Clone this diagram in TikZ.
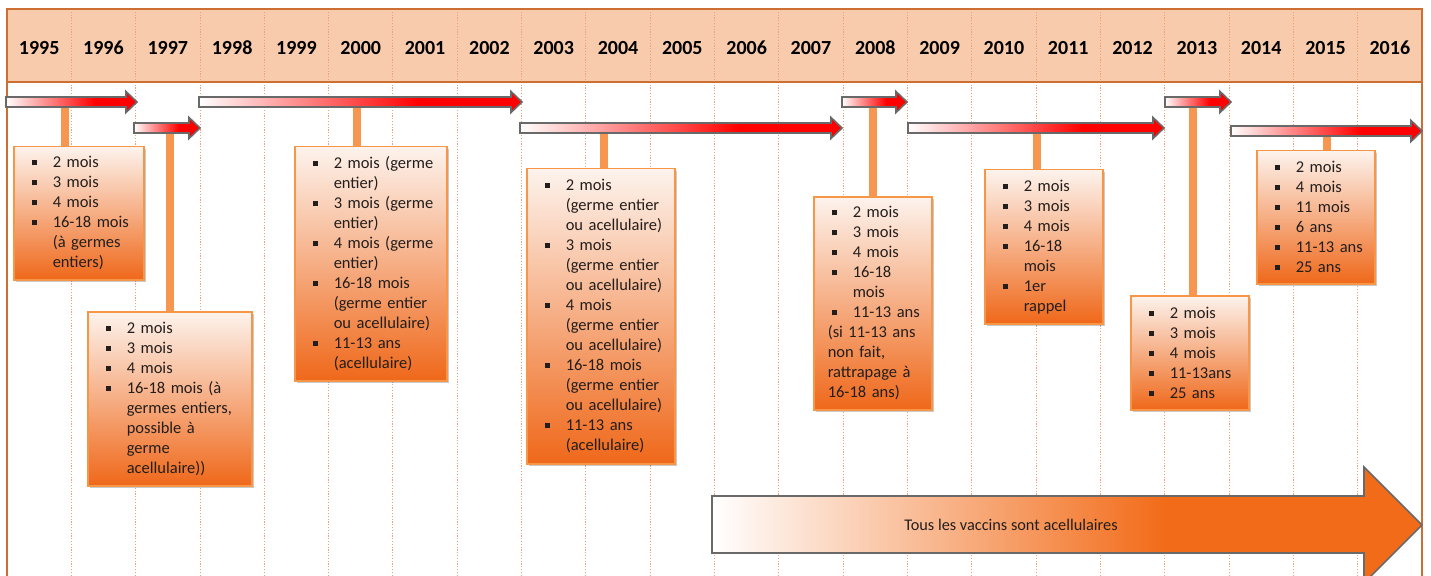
\documentclass[tikz,border=0pt]{standalone}
\usepackage{fontspec}
\setmainfont{Carlito}
\usetikzlibrary{shadows}
\definecolor{hdr}{RGB}{248,203,173}
\definecolor{frame}{RGB}{205,110,50}
\definecolor{gridc}{RGB}{238,160,120}
\definecolor{arrgray}{RGB}{105,105,105}
\definecolor{conn}{RGB}{247,150,80}
\definecolor{boxline}{RGB}{247,150,70}
\definecolor{boxtop}{RGB}{253,243,237}
\definecolor{boxbot}{RGB}{239,104,26}
\definecolor{bigor}{RGB}{242,107,24}
\definecolor{txt}{RGB}{35,30,28}
\pgfdeclarehorizontalshading{redgrad}{100bp}{color(0bp)=(white); color(25bp)=(white); color(59bp)=(red); color(100bp)=(red)}
\pgfdeclarehorizontalshading{orgrad}{100bp}{color(0bp)=(white); color(25bp)=(white); color(57bp)=(bigor); color(100bp)=(bigor)}
\newcommand{\bl}[1]{\mbox{\makebox[25bp][l]{\hspace*{4bp}\raisebox{2.5bp}{\rule{5bp}{5bp}}}#1}}
\newcommand{\cl}[1]{\mbox{\hspace*{25bp}#1}}
\newcommand{\pl}[1]{\mbox{#1}}
\newcommand{\tlarr}[3]{\draw[tlarrowsty] (#1,{#3-5}) -- ({#2-11},{#3-5}) -- ({#2-11},{#3-10.5}) -- (#2,#3) -- ({#2-11},{#3+10.5}) -- ({#2-11},{#3+5}) -- (#1,{#3+5}) -- cycle;}
\tikzset{
  yearlbl/.style={font=\fontsize{20bp}{24bp}\selectfont\bfseries, text=black},
  gridline/.style={draw=gridc, line width=0.9bp, dash pattern=on 1.2bp off 1.6bp},
  framel/.style={draw=frame, line width=1.6bp},
  tlarrowsty/.style={draw=arrgray, line width=1.6bp, shade, shading=redgrad, line join=miter},
  connector/.style={draw=conn, line width=8bp},
  sched/.style={draw=boxline, line width=1.5bp, top color=boxtop, bottom color=boxbot,
    inner xsep=14bp, inner ysep=0pt, anchor=north west, align=left,
    font=\fontsize{16.5bp}{20bp}\selectfont, text=txt,
    drop shadow={shadow xshift=2.5bp, shadow yshift=-2.5bp, opacity=0.35, fill=black!60}},
}
\begin{document}
\begin{tikzpicture}[x=1bp, y=-1bp]
\clip (0,0) rectangle (1431,576);
\useasboundingbox (0,0) rectangle (1431,576);
% header
\fill[hdr] (7,9) rectangle (1422,82);
\foreach \k in {1,...,21} \draw[gridline] ({7+64.318*\k},9) -- ({7+64.318*\k},576);
\draw[framel] (7,576) -- (7,9) -- (1422,9) -- (1422,576);
\draw[framel] (7,82) -- (1422,82);
\foreach \i in {0,...,21} {
  \pgfmathtruncatemacro\yr{1995+\i}
  \node[yearlbl] (y\yr) at ({39.16+64.318*\i},48) {\yr};
}
% connector start points
\coordinate (c1) at (65,106);
\coordinate (c2) at (170,132);
\coordinate (c3) at (357,106);
\coordinate (c4) at (604,132);
\coordinate (c5) at (873,106);
\coordinate (c6) at (1037,132);
\coordinate (c7) at (1193,106);
\coordinate (c8) at (1327,135);
% boxes
\node[sched, text width=102bp, minimum height=133bp] (b1) at (13,146)
 {\bl{2 mois}\\\bl{3 mois}\\\bl{4 mois}\\\bl{16-18 mois}\\\cl{(à germes}\\\cl{entiers)}};
\node[sched, text width=136bp, minimum height=174bp] (b2) at (87,311)
 {\bl{2 mois}\\\bl{3 mois}\\\bl{4 mois}\\\bl{16-18 mois (à}\\\cl{germes entiers,}\\\cl{possible à}\\\cl{germe}\\\cl{acellulaire))}};
\node[sched, text width=124bp, minimum height=234bp] (b3) at (294,146)
 {\bl{2 mois (germe}\\\cl{entier)}\\\bl{3 mois (germe}\\\cl{entier)}\\\bl{4 mois (germe}\\\cl{entier)}\\\bl{16-18 mois}\\\cl{(germe entier}\\\cl{ou acellulaire)}\\\bl{11-13 ans}\\\cl{(acellulaire)}};
\node[sched, text width=120bp, minimum height=295bp] (b4) at (526,168)
 {\bl{2 mois}\\\cl{(germe entier}\\\cl{ou acellulaire)}\\\bl{3 mois}\\\cl{(germe entier}\\\cl{ou acellulaire)}\\\bl{4 mois}\\\cl{(germe entier}\\\cl{ou acellulaire)}\\\bl{16-18 mois}\\\cl{(germe entier}\\\cl{ou acellulaire)}\\\bl{11-13 ans}\\\cl{(acellulaire)}};
\node[sched, text width=90bp, minimum height=213bp] (b5) at (813,196)
 {\bl{2 mois}\\\bl{3 mois}\\\bl{4 mois}\\\bl{16-18}\\\cl{mois}\\\bl{11-13 ans}\\\pl{(si 11-13 ans}\\\pl{non fait,}\\\pl{rattrapage à}\\\pl{16-18 ans)}};
\node[sched, text width=90bp, minimum height=154bp] (b6) at (984,169)
 {\bl{2 mois}\\\bl{3 mois}\\\bl{4 mois}\\\bl{16-18}\\\cl{mois}\\\bl{1er}\\\cl{rappel}};
\node[sched, text width=90bp, minimum height=114bp] (b7) at (1130,295)
 {\bl{2 mois}\\\bl{3 mois}\\\bl{4 mois}\\\bl{11-13ans}\\\bl{25 ans}};
\node[sched, text width=90bp, minimum height=133bp] (b8) at (1256,150)
 {\bl{2 mois}\\\bl{4 mois}\\\bl{11 mois}\\\bl{6 ans}\\\bl{11-13 ans}\\\bl{25 ans}};
% connectors
\foreach \n in {1,...,8} \draw[connector] (c\n) -- (c\n |- b\n.north);
% timeline arrows
\tlarr{6}{137}{102}
\tlarr{134}{200}{128}
\tlarr{199}{522}{102}
\tlarr{520}{842}{128}
\tlarr{842}{907}{102}
\tlarr{908}{1164}{128}
\tlarr{1165}{1231}{102}
\tlarr{1231}{1422}{131}
% big arrow
\draw[draw=arrgray, line width=1.6bp, shade, shading=orgrad, line join=miter]
  (712,496) -- (1364,496) -- (1364,467) -- (1422,525) -- (1364,583) -- (1364,553) -- (712,553) -- cycle;
\node[font=\fontsize{16.3bp}{20bp}\selectfont, text=txt] (tous) at (1011,525) {Tous les vaccins sont acellulaires};
\end{tikzpicture}
\end{document}
